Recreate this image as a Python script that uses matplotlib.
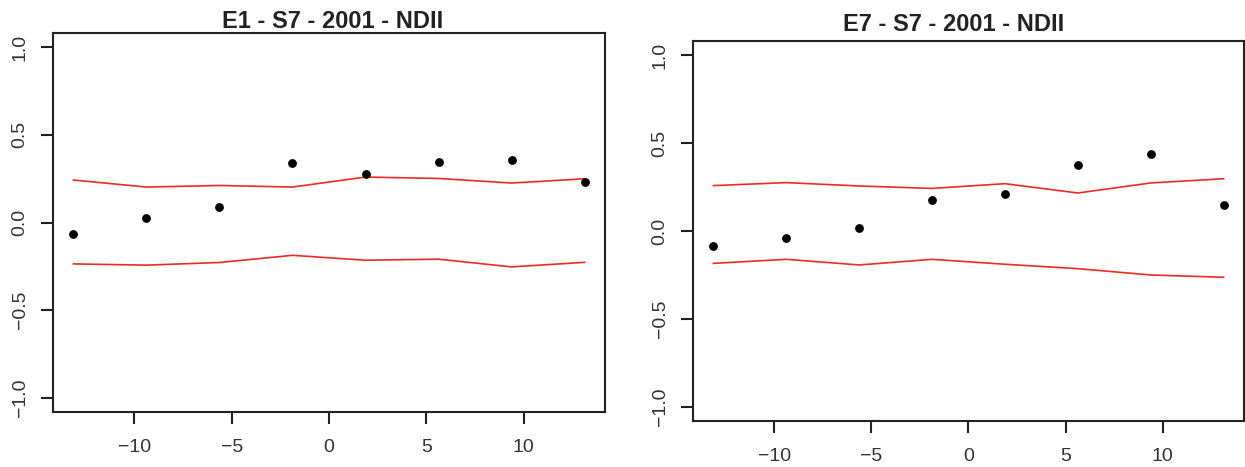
import numpy as np
import matplotlib.pyplot as plt

plt.rcParams['font.family'] = ['Liberation Sans', 'DejaVu Sans']

x = [-13.125, -9.375, -5.625, -1.875, 1.875, 5.625, 9.375, 13.125]

# E1 panel
e1_pts = [-0.067, 0.026, 0.088, 0.340, 0.278, 0.342, 0.359, 0.232]
e1_up = [0.242, 0.202, 0.211, 0.202, 0.259, 0.251, 0.225, 0.249]
e1_lo = [-0.236, -0.243, -0.228, -0.187, -0.215, -0.209, -0.253, -0.227]

# E7 panel
e7_pts = [-0.087, -0.040, 0.019, 0.174, 0.212, 0.377, 0.436, 0.150]
e7_up = [0.258, 0.275, 0.256, 0.242, 0.269, 0.216, 0.273, 0.297]
e7_lo = [-0.184, -0.161, -0.193, -0.161, -0.189, -0.214, -0.250, -0.263]

titles = ["E1 - S7 - 2001 - NDII", "E7 - S7 - 2001 - NDII"]
xticks = [-10, -5, 0, 5, 10]
yticks = [-1.0, -0.5, 0.0, 0.5, 1.0]

fig = plt.figure(figsize=(12.45, 4.67), dpi=100)
ax1 = fig.add_axes([53 / 1245, 1 - 412 / 467, 552 / 1245, 379 / 467])
ax2 = fig.add_axes([693 / 1245, 1 - 421 / 467, 551 / 1245, 380 / 467])

panels = [(ax1, e1_pts, e1_up, e1_lo), (ax2, e7_pts, e7_up, e7_lo)]
for ax, pts, up, lo in panels:
    ax.plot(x, up, color='#ee2a22', lw=1.2)
    ax.plot(x, lo, color='#ee2a22', lw=1.2)
    ax.plot(x, pts, 'o', color='black', ms=5.3, mec='black')
    ax.set_xlim(-14.175, 14.175)
    ax.set_ylim(-1.08, 1.08)
    ax.set_xticks(xticks)
    ax.set_yticks(yticks)
    ax.set_xticklabels(["\u221210", "\u22125", "0", "5", "10"])
    ax.set_yticklabels(["\u22121.0", "\u22120.5", "0.0", "0.5", "1.0"])
    for s in ax.spines.values():
        s.set_linewidth(1.5)
        s.set_color('#222222')
    ax.tick_params(axis='both', direction='out', length=8.6, width=1.5,
                   color='#222222', labelsize=14, labelcolor='#333333')
    ax.tick_params(axis='x', pad=11)
    ax.tick_params(axis='y', pad=9)
    for lab in ax.get_yticklabels():
        lab.set_rotation(90)
        lab.set_va('center')

fig.text(333 / 1245, 1 - 28.3 / 467, titles[0], ha='center', va='baseline',
         fontsize=17, fontweight='bold', color='#222222')
fig.text(954 / 1245, 1 - 30.7 / 467, titles[1], ha='center', va='baseline',
         fontsize=17, fontweight='bold', color='#222222')

fig.savefig("out.png", dpi=100)
